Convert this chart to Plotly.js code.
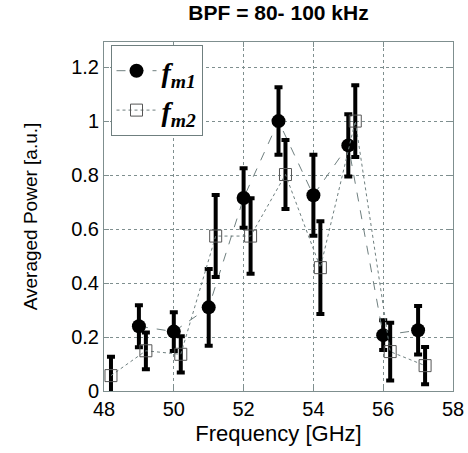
<!DOCTYPE html>
<html><head><meta charset="utf-8">
<script src="https://cdn.plot.ly/plotly-3.0.1.min.js"></script>
<style>body{margin:0;background:#fff}#chart{width:468px;height:453px}</style>
</head><body><div id="chart"></div>
<script>
const freq1 = [49, 50, 51, 52, 53, 54, 55, 56, 57];
const power1 = [0.24, 0.22, 0.31, 0.715, 1.0, 0.725, 0.91, 0.207, 0.225];
const err1 = [0.078, 0.072, 0.142, 0.11, 0.125, 0.15, 0.115, 0.055, 0.09];

const freq2 = [48.2, 49.2, 50.2, 51.2, 52.2, 53.2, 54.2, 55.2, 56.2, 57.2];
const power2 = [0.057, 0.149, 0.136, 0.574, 0.574, 0.802, 0.457, 1.0, 0.146, 0.094];
const err2 = [0.07, 0.068, 0.067, 0.152, 0.14, 0.128, 0.172, 0.133, 0.107, 0.069];

const xTicks = [48, 50, 52, 54, 56, 58];
const yTicks = [0, 0.2, 0.4, 0.6, 0.8, 1, 1.2];

const traces = [
  {
    x: freq1, y: power1, type: 'scatter', mode: 'lines+markers',
    name: '<b><i>f</i></b><sub><b><i>m1</i></b></sub>',
    line: {color: '#6f7f7f', width: 1, dash: 'dash'},
    marker: {symbol: 'circle', size: 14, color: '#000'},
    error_y: {type: 'data', array: err1, visible: true, color: '#000', thickness: 4, width: 4}
  },
  {
    x: freq2, y: power2, type: 'scatter', mode: 'lines+markers',
    name: '<b><i>f</i></b><sub><b><i>m2</i></b></sub>',
    line: {color: '#6f7f7f', width: 1, dash: 'dot'},
    marker: {symbol: 'square-open', size: 12, color: '#555', line: {width: 1, color: '#555'}},
    error_y: {type: 'data', array: err2, visible: true, color: '#000', thickness: 4, width: 4}
  }
];

const layout = {
  width: 468, height: 453,
  margin: {l: 103.5, r: 14.5, t: 42, b: 62},
  paper_bgcolor: '#fff', plot_bgcolor: '#fff',
  font: {family: 'Liberation Sans, Arial, sans-serif', color: '#000', size: 20},
  title: {text: '<b>BPF = 80- 100 kHz</b>', x: 278.5 / 468, xref: 'container', xanchor: 'center',
          y: 1 - 5 / 453, yref: 'container', yanchor: 'top',
          font: {size: 21, family: 'Liberation Sans, Arial, sans-serif'}},
  xaxis: {
    range: [48, 58], tickvals: xTicks, ticktext: xTicks.map(String),
    showgrid: true, gridcolor: '#7f8f8f', griddash: 'dot', gridwidth: 1,
    showline: true, linecolor: '#7f8f8f', linewidth: 1, mirror: 'ticks',
    ticks: 'inside', ticklen: 5, tickcolor: '#7f8f8f', zeroline: false,
    tickfont: {size: 20},
    title: {text: 'Frequency [GHz]', font: {size: 22}, standoff: 6}
  },
  yaxis: {
    range: [0, 1.293], tickvals: yTicks, ticktext: yTicks.map(String),
    showgrid: true, gridcolor: '#7f8f8f', griddash: 'dot', gridwidth: 1,
    showline: true, linecolor: '#7f8f8f', linewidth: 1, mirror: 'ticks',
    ticks: 'inside', ticklen: 5, tickcolor: '#7f8f8f', zeroline: false,
    tickfont: {size: 20}, automargin: true,
    title: {text: 'Averaged Power [a.u.]', font: {size: 19}, standoff: 28}
  },
  legend: {
    x: 6.5 / 349, y: 1 - 3 / 349, xanchor: 'left', yanchor: 'top',
    bgcolor: '#fff', bordercolor: '#6f7f7f', borderwidth: 1,
    font: {family: 'Liberation Serif', size: 28, color: '#000'},
    itemwidth: 40, tracegroupgap: 0
  },
  showlegend: true
};

Plotly.newPlot('chart', traces, layout, {displayModeBar: false, staticPlot: true});
</script>
</body></html>
